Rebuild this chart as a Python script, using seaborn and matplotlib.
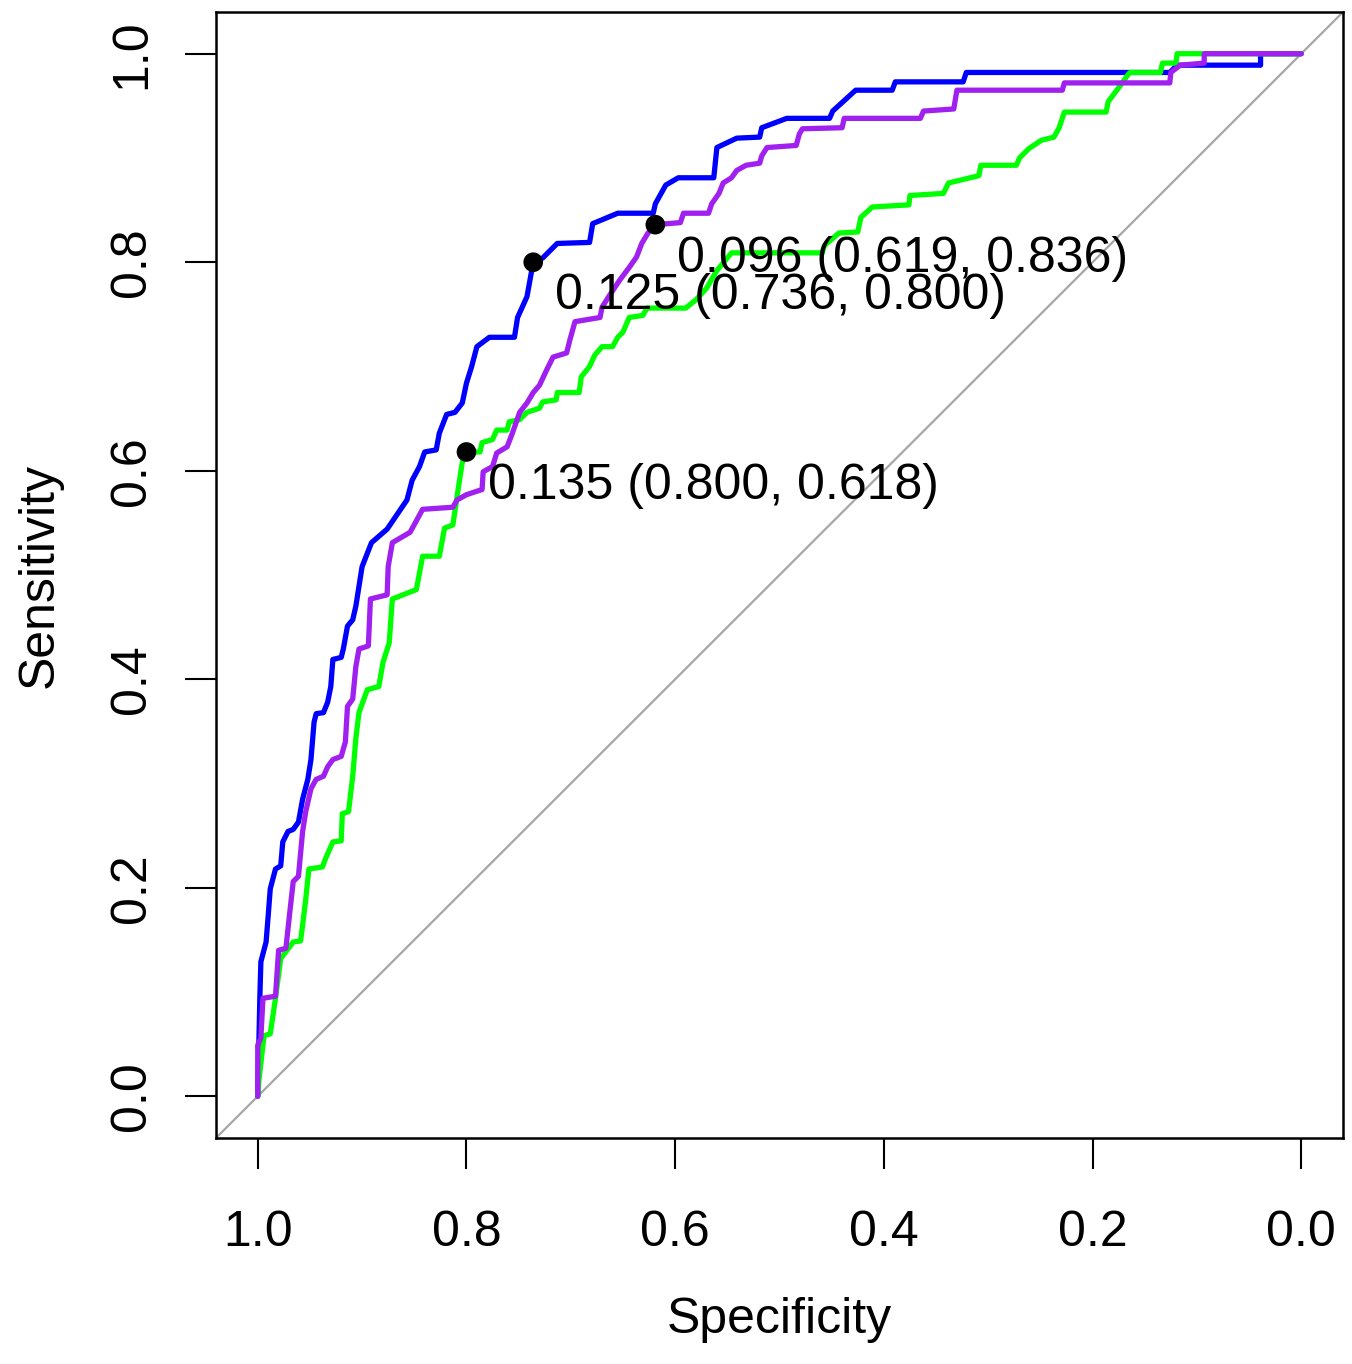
import numpy as np
import pandas as pd
import matplotlib
matplotlib.use("Agg")
import matplotlib.pyplot as plt
import seaborn as sns

# =====================================
# ROC curve data (specificity, sensitivity)
# =====================================
blue_spec = [1.000, 0.998, 0.997, 0.992, 0.990, 0.988, 0.983, 0.978, 0.976, 0.971,
             0.966, 0.961, 0.957, 0.952, 0.949, 0.946, 0.944, 0.937, 0.933, 0.930,
             0.928, 0.920, 0.918, 0.914, 0.909, 0.906, 0.900, 0.891, 0.876, 0.857,
             0.852, 0.845, 0.840, 0.829, 0.826, 0.819, 0.811, 0.804, 0.800, 0.795,
             0.790, 0.778, 0.754, 0.751, 0.742, 0.736, 0.727, 0.713, 0.682, 0.679,
             0.655, 0.621, 0.619, 0.609, 0.597, 0.563, 0.560, 0.541, 0.519, 0.517,
             0.493, 0.452, 0.449, 0.438, 0.427, 0.392, 0.389, 0.324, 0.321, 0.126,
             0.119, 0.039, 0.039, 0.000]
blue_sens = [0.000, 0.094, 0.129, 0.148, 0.173, 0.199, 0.218, 0.221, 0.244, 0.254,
             0.256, 0.263, 0.285, 0.304, 0.323, 0.359, 0.367, 0.368, 0.378, 0.393,
             0.419, 0.421, 0.429, 0.451, 0.457, 0.470, 0.508, 0.531, 0.544, 0.572,
             0.591, 0.604, 0.618, 0.620, 0.636, 0.654, 0.656, 0.665, 0.684, 0.700,
             0.719, 0.728, 0.728, 0.747, 0.767, 0.800, 0.804, 0.818, 0.819, 0.837,
             0.847, 0.847, 0.856, 0.874, 0.881, 0.881, 0.910, 0.919, 0.920, 0.929,
             0.938, 0.938, 0.945, 0.955, 0.965, 0.965, 0.973, 0.973, 0.982, 0.982,
             0.989, 0.989, 1.000, 1.000]

green_spec = [1.000, 0.999, 0.994, 0.988, 0.983, 0.978, 0.966, 0.959, 0.957, 0.954,
              0.951, 0.938, 0.935, 0.928, 0.920, 0.919, 0.913, 0.909, 0.906, 0.903,
              0.895, 0.884, 0.880, 0.874, 0.871, 0.848, 0.842, 0.826, 0.821, 0.813,
              0.808, 0.804, 0.800, 0.787, 0.785, 0.775, 0.771, 0.761, 0.759, 0.749,
              0.742, 0.730, 0.727, 0.714, 0.713, 0.692, 0.690, 0.682, 0.677, 0.670,
              0.660, 0.655, 0.650, 0.644, 0.631, 0.627, 0.590, 0.580, 0.570, 0.560,
              0.546, 0.459, 0.457, 0.443, 0.425, 0.422, 0.411, 0.376, 0.375, 0.343,
              0.338, 0.309, 0.307, 0.273, 0.270, 0.261, 0.249, 0.237, 0.232, 0.227,
              0.187, 0.185, 0.173, 0.166, 0.164, 0.135, 0.133, 0.120, 0.119, 0.000]
green_sens = [0.000, 0.014, 0.058, 0.060, 0.094, 0.132, 0.148, 0.149, 0.164, 0.189,
              0.218, 0.220, 0.228, 0.244, 0.245, 0.271, 0.273, 0.307, 0.343, 0.368,
              0.390, 0.393, 0.416, 0.435, 0.477, 0.486, 0.518, 0.518, 0.545, 0.548,
              0.582, 0.608, 0.618, 0.618, 0.627, 0.630, 0.639, 0.639, 0.647, 0.649,
              0.656, 0.660, 0.666, 0.668, 0.675, 0.675, 0.690, 0.700, 0.711, 0.719,
              0.719, 0.728, 0.733, 0.747, 0.749, 0.756, 0.756, 0.764, 0.775, 0.792,
              0.809, 0.809, 0.816, 0.828, 0.829, 0.843, 0.853, 0.855, 0.864, 0.866,
              0.876, 0.883, 0.893, 0.893, 0.900, 0.909, 0.917, 0.920, 0.929, 0.944,
              0.944, 0.954, 0.970, 0.980, 0.982, 0.982, 0.991, 0.991, 1.000, 1.000]

purple_spec = [1.000, 1.000, 0.997, 0.995, 0.983, 0.980, 0.973, 0.970, 0.966, 0.961,
               0.957, 0.954, 0.949, 0.944, 0.937, 0.933, 0.928, 0.920, 0.916, 0.914,
               0.909, 0.906, 0.903, 0.894, 0.892, 0.876, 0.875, 0.871, 0.854, 0.842,
               0.813, 0.809, 0.800, 0.785, 0.784, 0.775, 0.771, 0.761, 0.756, 0.749,
               0.742, 0.736, 0.730, 0.723, 0.717, 0.704, 0.701, 0.696, 0.672, 0.670,
               0.663, 0.653, 0.644, 0.637, 0.632, 0.626, 0.619, 0.595, 0.592, 0.568,
               0.565, 0.558, 0.554, 0.546, 0.541, 0.532, 0.519, 0.517, 0.512, 0.484,
               0.481, 0.478, 0.440, 0.438, 0.365, 0.362, 0.333, 0.330, 0.229, 0.227,
               0.126, 0.125, 0.116, 0.093, 0.093, 0.000]
purple_sens = [0.000, 0.049, 0.056, 0.094, 0.096, 0.140, 0.142, 0.170, 0.206, 0.211,
               0.254, 0.273, 0.295, 0.304, 0.307, 0.316, 0.323, 0.326, 0.340, 0.374,
               0.381, 0.412, 0.429, 0.432, 0.477, 0.481, 0.508, 0.531, 0.541, 0.563,
               0.565, 0.572, 0.577, 0.582, 0.599, 0.604, 0.617, 0.623, 0.636, 0.656,
               0.665, 0.675, 0.682, 0.697, 0.709, 0.713, 0.725, 0.743, 0.747, 0.757,
               0.768, 0.783, 0.795, 0.805, 0.818, 0.828, 0.836, 0.838, 0.847, 0.847,
               0.856, 0.866, 0.876, 0.881, 0.888, 0.893, 0.895, 0.902, 0.910, 0.912,
               0.923, 0.928, 0.929, 0.938, 0.938, 0.945, 0.947, 0.965, 0.965, 0.972,
               0.972, 0.982, 0.989, 0.991, 1.000, 1.000]

# best thresholds: (threshold, specificity, sensitivity)
thr_labels = ["0.125", "0.135", "0.096"]
thr_spec = [0.736, 0.800, 0.619]
thr_sens = [0.800, 0.618, 0.836]

curve_colors = ["#0000FF", "#00FF00", "#A020F0"]
x_ticks = [1.0, 0.8, 0.6, 0.4, 0.2, 0.0]
y_ticks = [0.0, 0.2, 0.4, 0.6, 0.8, 1.0]

# =====================================
# Plot
# =====================================
sns.set_style("ticks", {"text.color": "black", "axes.labelcolor": "black",
                        "xtick.color": "black", "ytick.color": "black",
                        "axes.edgecolor": "black"})
plt.rcParams["font.family"] = ["Liberation Sans", "DejaVu Sans"]

fig = plt.figure(figsize=(13.52, 13.64), dpi=100)
ax = fig.add_axes([216 / 1352, 1 - 1138 / 1364, 1127 / 1352, 1126 / 1364])

# chance diagonal
ax.axline((1.0, 0.0), (0.0, 1.0), color="#A6A6A6", lw=1.6, zorder=1)

curves = [(blue_spec, blue_sens), (green_spec, green_sens), (purple_spec, purple_sens)]
for (spec, sens), col in zip(curves, curve_colors):
    df = pd.DataFrame({"spec": spec, "sens": sens})
    sns.lineplot(data=df, x="spec", y="sens", sort=False, estimator=None,
                 color=col, lw=3.8, ax=ax, zorder=2)

sns.scatterplot(x=thr_spec, y=thr_sens, color="black", s=200, edgecolor="none",
                ax=ax, zorder=4)
for lab, sp, se in zip(thr_labels, thr_spec, thr_sens):
    ax.annotate(f"{lab} ({sp:.3f}, {se:.3f})", (sp, se),
                xytext=(22, -47), textcoords="offset pixels",
                ha="left", va="baseline", fontsize=36, color="black", zorder=5)

ax.set_xlim(1.04, -0.04)
ax.set_ylim(-0.04, 1.04)
ax.set_xticks(x_ticks)
ax.set_yticks(y_ticks)
ax.set_xticklabels([f"{t:.1f}" for t in x_ticks], fontsize=36)
ax.set_yticklabels([f"{t:.1f}" for t in y_ticks], fontsize=36,
                   rotation=90, va="center")
ax.tick_params(axis="both", length=22, width=1.5, color="black", labelcolor="black")
ax.tick_params(axis="x", pad=30)
ax.tick_params(axis="y", pad=22)

for side in ["left", "right", "top", "bottom"]:
    ax.spines[side].set_visible(True)
    ax.spines[side].set_linewidth(1.8)
    ax.spines[side].set_color("black")

ax.set_xlabel("Specificity", fontsize=36, va="center", color="black")
ax.set_ylabel("Sensitivity", fontsize=36, va="center", color="black")
ax.xaxis.set_label_coords(0.5, -0.1616)
ax.yaxis.set_label_coords(-0.156, 0.5)

fig.savefig("out.png", dpi=100, facecolor="white")
plt.close(fig)
